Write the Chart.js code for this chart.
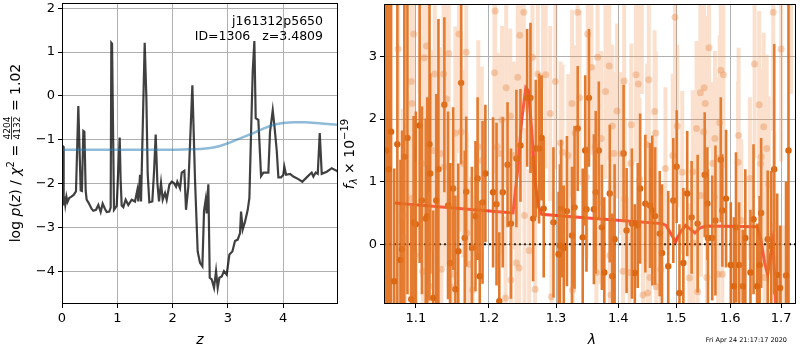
<!DOCTYPE html>
<html>
<head>
<meta charset="utf-8">
<script src="https://cdn.jsdelivr.net/npm/chart.js@4.4.1/dist/chart.umd.min.js"></script>
<style>
    html, body { margin: 0; padding: 0; background: #fff; }
    #wrap { position: relative; width: 800px; height: 350px; }
    canvas { position: absolute; left: 0; top: 0; }
</style>
</head>
<body>
<div id="wrap">
    <canvas id="pzChart" width="800" height="350"></canvas>
    <canvas id="specChart" width="800" height="350"></canvas>
</div>
<script>
// === p(z) panel ===
const pzZ = [0.000, 0.008, 0.015, 0.022, 0.030, 0.045, 0.060, 0.080, 0.100, 0.130, 0.170, 0.210, 0.253, 0.295, 0.338, 0.360,
    0.386, 0.405, 0.428, 0.446, 0.476, 0.537, 0.566, 0.615, 0.657, 0.699, 0.735, 0.778, 0.808, 0.856, 0.880, 0.892, 0.905,
    0.940, 0.989, 1.043, 1.060, 1.079, 1.109, 1.151, 1.199, 1.260, 1.320, 1.362, 1.380, 1.411, 1.429, 1.495, 1.525, 1.549,
    1.579, 1.633, 1.664, 1.694, 1.724, 1.754, 1.790, 1.821, 1.863, 1.893, 1.941, 1.984, 2.025, 2.062, 2.085, 2.134, 2.164,
    2.212, 2.242, 2.284, 2.357, 2.405, 2.453, 2.495, 2.538, 2.568, 2.598, 2.616, 2.646, 2.671, 2.707, 2.749, 2.785, 2.815,
    2.845, 2.888, 2.929, 2.978, 3.026, 3.080, 3.128, 3.177, 3.219, 3.237, 3.267, 3.309, 3.358, 3.388, 3.418, 3.448, 3.478,
    3.502, 3.550, 3.599, 3.641, 3.731, 3.761, 3.810, 3.839, 3.882, 3.912, 3.960, 4.002, 4.020, 4.051, 4.123, 4.183, 4.273,
    4.345, 4.424, 4.514, 4.545, 4.587, 4.624, 4.660, 4.696, 4.787, 4.877, 4.967, 5.000];
const pzLog = [-2.45, -1.12, -2.42, -1.15, -2.50, -2.30, -2.48, -2.30, -2.42, -2.33, -2.30, -2.26, -2.18, -0.23, -2.16, -2.17,
    -0.80, -0.82, -2.17, -2.37, -2.43, -2.58, -2.62, -2.60, -2.49, -2.65, -2.46, -2.58, -2.65, -2.64, -2.55, 1.21, 1.19,
    -2.60, -2.51, -0.95, -1.92, -2.50, -2.54, -2.37, -2.49, -2.37, -2.41, -2.15, -2.41, -1.80, -2.41, 1.21, -0.02, -1.77,
    -2.43, -2.41, -1.73, -0.88, -1.98, -2.41, -1.99, -2.37, -2.22, -2.37, -2.03, -1.96, -1.99, -2.07, -1.96, -2.11, -1.75,
    -1.71, -2.60, -2.07, 0.24, -1.92, -3.55, -3.81, -3.89, -2.62, -2.37, -2.68, -2.02, -4.15, -4.19, -4.38, -4.00, -4.38,
    -4.15, -4.12, -4.00, -4.08, -3.62, -3.55, -3.31, -3.28, -3.13, -2.64, -3.05, -2.87, -2.60, -2.33, -0.86, 0.55, 1.25,
    -0.51, -0.55, -1.83, -1.75, -1.75, -0.82, -0.33, -0.67, -1.24, -1.86, -1.86, -1.80, -1.62, -1.80, -1.78, -1.84, -1.90,
    -1.96, -1.86, -1.75, -1.84, -1.75, -1.78, -0.85, -1.78, -1.73, -1.65, -1.71, -1.75];
const priorZ = [0, 1, 2, 2.3, 2.6, 2.8, 3.0, 3.2, 3.4, 3.6, 3.8, 4.0, 4.2, 4.4, 4.6, 4.8, 5.0];
const priorLog = [-1.23, -1.23, -1.23, -1.22, -1.20, -1.16, -1.08, -0.98, -0.88, -0.77, -0.67, -0.62, -0.60, -0.60, -0.62, -0.64, -0.66];
const pzXTicks = [0, 1, 2, 3, 4];
const pzYTicks = [-4, -3, -2, -1, 0, 1, 2];

// === spectrum panel ===
const darkLam = [1.062, 1.065, 1.068, 1.072, 1.076, 1.080, 1.082, 1.085, 1.089, 1.094, 1.097, 1.100, 1.105, 1.108, 1.113,
    1.115, 1.118, 1.119, 1.123, 1.127, 1.130, 1.138, 1.143, 1.146, 1.150, 1.153, 1.157, 1.161, 1.166, 1.168, 1.176, 1.181,
    1.184, 1.187, 1.191, 1.195, 1.206, 1.211, 1.215, 1.220, 1.227, 1.232, 1.240, 1.246, 1.256, 1.261, 1.265, 1.269, 1.274,
    1.278, 1.281, 1.296, 1.304, 1.306, 1.308, 1.312, 1.317, 1.325, 1.329, 1.334, 1.342, 1.346, 1.348, 1.352, 1.360, 1.363,
    1.368, 1.373, 1.377, 1.386, 1.390, 1.394, 1.409, 1.414, 1.423, 1.428, 1.433, 1.437, 1.446, 1.454, 1.458, 1.463, 1.471,
    1.475, 1.486, 1.495, 1.501, 1.506, 1.513, 1.520, 1.528, 1.539, 1.552, 1.557, 1.558, 1.566, 1.572, 1.582, 1.585, 1.592,
    1.601, 1.607, 1.611, 1.617, 1.624, 1.629, 1.639, 1.645, 1.652, 1.657, 1.660, 1.673, 1.680, 1.686, 1.692, 1.698, 1.710, 1.715];
const darkFlux = [1.5, 1.2, 1.8, -0.59, 1.6, -0.25, -0.08, 1.4, 1.7, -0.88, 0.35, 0.32, 1.9, 0.70, 0.41,
    0.45, 1.6, 1.13, -0.86, 0.70, 1.2, 2.23, 0.62, -0.30, 0.89, -0.72, -0.11, 2.58, 0.10, 0.84, -0.06, 0.45,
    1.05, -0.51, 0.67, 1.13, 0.83, 0.64, -0.91, 0.83, 1.27, 0.33, 1.37, 1.58, 2.34, 2.34, 0.41, 1.53, 1.53,
    1.70, 0.57, 0.35, -0.16, -0.02, 0.57, -0.06, 0.53, 0.14, 0.59, 1.85, 0.11, 1.50, 0.56, 2.34, 0.56, 0.83,
    1.50, 0.27, -0.45, 0.81, -0.51, 0.08, 1.45, 0.22, 0.33, -0.46, 0.30, 0.89, 0.65, 0.62, 0.54, 0.45, 0.17,
    -0.14, -0.35, 0.70, 1.24, -0.78, -0.30, 0.81, 0.43, 0.33, 1.11, 0.65, 0.10, 0.10, 0.38, 1.35, 0.54, 0.73,
    -0.33, -0.67, 0.27, -0.33, -0.67, 0.10, -0.45, 0.40, -0.67, -0.33, 0.50, 0.08, -0.03, 1.2, -0.49, -0.7, -0.5, 1.5];
const darkErr = [3.0, 3.0, 3.0, 1.8, 2.8, 1.6, 1.9, 2.9, 2.5, 1.5, 1.7, 1.8, 2.2, 1.5, 1.6,
    1.9, 2.5, 1.6, 1.4, 1.7, 2.4, 1.4, 1.5, 1.6, 1.3, 1.5, 1.4, 1.3, 1.4, 1.2, 1.3, 1.2,
    1.3, 1.2, 1.3, 1.1, 1.2, 1.3, 1.1, 1.2, 1.0, 1.2, 1.1, 0.9, 1.1, 1.2, 1.0, 1.1, 1.2,
    1.0, 1.1, 1.2, 1.0, 1.3, 1.1, 1.0, 1.2, 1.1, 1.3, 1.0, 1.1, 1.2, 1.0, 1.1, 1.2, 1.3,
    1.1, 1.0, 1.2, 1.1, 1.0, 1.2, 1.1, 1.0, 1.2, 1.1, 1.0, 1.2, 1.1, 1.0, 1.2, 1.1, 1.0,
    1.1, 1.2, 1.0, 0.9, 1.1, 1.2, 1.0, 0.9, 1.1, 1.0, 0.9, 1.1, 1.0, 1.2, 1.0, 0.9, 1.1,
    1.0, 1.1, 1.2, 1.0, 0.9, 1.1, 1.0, 1.2, 1.0, 1.1, 1.2, 1.1, 1.2, 2.0, 1.3, 1.0, 1.5, 3.0];

const lightLam = [1.065, 1.077, 1.083, 1.086, 1.093, 1.094, 1.095, 1.097, 1.099, 1.105, 1.108, 1.109, 1.111, 1.114, 1.118,
    1.123, 1.125, 1.133, 1.134, 1.137, 1.138, 1.141, 1.144, 1.146, 1.150, 1.153, 1.158, 1.160, 1.161, 1.164, 1.168, 1.169,
    1.173, 1.177, 1.185, 1.190, 1.208, 1.209, 1.212, 1.215, 1.219, 1.224, 1.225, 1.231, 1.232, 1.236, 1.240, 1.242, 1.244,
    1.245, 1.251, 1.252, 1.259, 1.264, 1.268, 1.272, 1.280, 1.284, 1.291, 1.293, 1.299, 1.307, 1.310, 1.319, 1.325, 1.326,
    1.330, 1.334, 1.337, 1.348, 1.350, 1.356, 1.362, 1.364, 1.366, 1.368, 1.372, 1.379, 1.385, 1.386, 1.388, 1.390, 1.393,
    1.398, 1.405, 1.408, 1.410, 1.411, 1.419, 1.421, 1.422, 1.430, 1.434, 1.436, 1.440, 1.442, 1.449, 1.450, 1.452, 1.454,
    1.462, 1.464, 1.465, 1.473, 1.481, 1.494, 1.498, 1.502, 1.511, 1.524, 1.530, 1.531, 1.537, 1.539, 1.544, 1.545, 1.550,
    1.551, 1.553, 1.556, 1.560, 1.567, 1.570, 1.571, 1.576, 1.577, 1.580, 1.582, 1.585, 1.587, 1.615, 1.616, 1.621, 1.638,
    1.647, 1.656, 1.659, 1.660, 1.665, 1.667, 1.671, 1.675, 1.684, 1.686, 1.700, 1.705, 1.720];
const lightFlux = [3.90, 3.12, 0.46, 0.11, 0.73, 2.60, 2.25, 3.36, -0.18, 4.00, 1.29, -0.43, 2.98, 3.17, -0.67,
    1.50, 2.72, 1.45, -0.40, 2.72, 1.24, 2.32, 3.05, -0.67, -0.48, 1.78, 3.36, 4.10, 1.80, 1.29, 3.07, 0.18,
    -0.32, -0.73, 1.56, 1.34, 2.74, 3.73, 1.56, 1.45, 1.99, -0.86, 2.50, 2.05, -0.57, 1.42, -0.30, 2.67, -0.38,
    3.34, 3.71, 0.46, -0.10, 2.99, -0.72, 2.72, 4.00, 2.71, 2.09, -0.84, 2.60, 1.62, 1.47, 1.42, 2.25, -0.73,
    1.78, 3.71, 2.34, 1.07, 3.36, 2.83, 1.56, -0.45, 2.99, 0.67, 1.69, 2.44, 2.85, -0.18, -0.81, 1.89, 1.45,
    2.13, 1.45, -0.43, 2.61, 0.72, -0.45, 1.29, 1.91, 2.71, 2.56, 1.04, 3.90, -0.81, 1.59, -0.78, 2.63, -0.53,
    2.12, 1.78, -0.68, -0.40, 1.21, 1.42, 3.63, 1.89, 1.15, -0.54, 1.16, 0.02, 1.85, -0.76, 2.42, 0.78, 1.80,
    2.50, 2.25, -0.53, 3.14, 1.29, 0.75, 1.69, 1.37, -0.48, 1.94, 2.78, -0.48, 2.71, 1.31, 1.74, 0.38, 1.05,
    2.88, 2.23, 1.29, 1.40, 1.88, -0.53, 1.53, 0.96, 3.71, 0.30, 3.12, -1.20, 4.20];
const lightErr = [1.6, 1.5, 1.7, 1.8, 1.7, 1.9, 1.6, 1.8, 1.5, 1.6, 1.8, 1.4, 1.7, 1.9, 1.5,
    1.6, 1.8, 1.7, 1.4, 1.5, 1.6, 1.8, 1.7, 1.3, 1.5, 1.7, 1.9, 1.8, 1.6, 1.5, 1.7, 1.6,
    1.4, 1.5, 1.7, 1.5, 1.6, 1.7, 1.5, 1.6, 1.5, 1.3, 1.6, 1.4, 1.3, 1.5, 1.4, 1.6, 1.3,
    1.5, 1.6, 1.4, 1.3, 1.5, 1.3, 1.4, 1.5, 1.5, 1.4, 1.3, 1.4, 1.3, 1.4, 1.3, 1.5, 1.2,
    1.4, 1.5, 1.4, 1.3, 1.5, 1.4, 1.3, 1.2, 1.5, 1.3, 1.4, 1.4, 1.5, 1.2, 1.2, 1.3, 1.3,
    1.4, 1.3, 1.2, 1.4, 1.3, 1.2, 1.3, 1.3, 1.4, 1.3, 1.3, 1.5, 1.2, 1.3, 1.2, 1.4, 1.2,
    1.3, 1.3, 1.2, 1.2, 1.3, 1.3, 1.5, 1.3, 1.3, 1.2, 1.3, 1.3, 1.4, 1.2, 1.5, 1.3, 1.4,
    1.5, 1.4, 1.2, 1.6, 1.3, 1.3, 1.4, 1.3, 1.2, 1.4, 1.5, 1.2, 1.5, 1.3, 1.4, 1.3, 1.3,
    1.5, 1.5, 1.4, 1.4, 1.5, 1.3, 1.5, 1.4, 1.9, 1.5, 1.8, 1.5, 1.8];

const modelLam = [1.073, 1.150, 1.235, 1.242, 1.248, 1.254, 1.258, 1.263, 1.268, 1.273, 1.278, 1.350, 1.475, 1.482, 1.490,
    1.499, 1.508, 1.517, 1.526, 1.534, 1.543, 1.554, 1.653, 1.660, 1.667, 1.673, 1.678, 1.683, 1.687, 1.690];
const modelFlux = [0.66, 0.58, 0.50, 1.20, 2.00, 2.50, 2.45, 1.80, 1.00, 0.60, 0.48, 0.42, 0.33, 0.30, 0.18,
    0.04, 0.20, 0.30, 0.24, 0.18, 0.26, 0.29, 0.28, 0.05, -0.30, -0.49, -0.20, 0.05, -0.50, -1.20];
const specXTicks = [1.1, 1.2, 1.3, 1.4, 1.5, 1.6, 1.7];
const specYTicks = [0, 1, 2, 3];

const FONT = "'DejaVu Sans', sans-serif";
Chart.defaults.font.family = FONT;
Chart.defaults.font.size = 13;
Chart.defaults.color = "#000";

const toXY = (xs, ys) => xs.map((x, i) => ({ x: x, y: ys[i] }));
const minus = v => String(v).replace("-", "\u2212");

// vertical error bars as one broken line
function errorSegments(xs, ys, es) {
    const out = [];
    xs.forEach((x, i) => {
        out.push({ x: x, y: ys[i] - es[i] });
        out.push({ x: x, y: ys[i] + es[i] });
        out.push({ x: x, y: null });
    });
    return out;
}

// rotated axis label made of runs (text / fraction)
function drawMath(ctx, cx, cy, runs) {
    ctx.save();
    ctx.translate(cx, cy);
    ctx.rotate(-Math.PI / 2);
    ctx.fillStyle = "#000";
    let total = 0;
    runs.forEach(r => {
        ctx.font = r.font;
        r.w = r.frac
            ? Math.max(ctx.measureText(r.frac[0]).width, ctx.measureText(r.frac[1]).width) + 2
            : ctx.measureText(r.text).width;
        total += r.w;
    });
    let x = -total / 2;
    runs.forEach(r => {
        ctx.font = r.font;
        if (r.frac) {
            ctx.textAlign = "center";
            ctx.fillText(r.frac[0], x + r.w / 2, -4);
            ctx.fillText(r.frac[1], x + r.w / 2, 6);
            ctx.fillRect(x + 1, -2.8, r.w - 2, 0.8);
            ctx.textAlign = "left";
        } else {
            ctx.textAlign = "left";
            ctx.fillText(r.text, x, r.dy);
        }
        x += r.w;
    });
    ctx.restore();
}

function axis(opts, z) {
    return Object.assign({
        z: z,
        grid: { color: "#b0b0b0", lineWidth: 1, tickColor: "#000", tickLength: 4 },
        border: { display: false },
        ticks: { color: "#000", padding: 3, maxRotation: 0, autoSkip: false }
    }, opts);
}

// fixed axis boxes so the plot areas sit where the reference has them
const fitX = s => { s.height = 46; s.paddingLeft = 0; s.paddingRight = 0; };
const fitY = w => s => { s.width = w; s.paddingTop = 0; s.paddingBottom = 0; };

const boxPlugin = {
    id: "box",
    afterDraw(chart) {
        const a = chart.chartArea, ctx = chart.ctx;
        ctx.save();
        ctx.strokeStyle = "#000";
        ctx.lineWidth = 1;
        ctx.strokeRect(a.left + 0.5, a.top + 0.5, a.right - a.left - 1, a.bottom - a.top - 1);
        ctx.restore();
    }
};

document.addEventListener("DOMContentLoaded", () => {
    const M = "14px " + FONT, MI = "italic 14px " + FONT, S = "9px " + FONT;

    // === Chart 1: log p(z) ===
    new Chart(document.getElementById("pzChart"), {
        type: "scatter",
        data: {
            datasets: [
                {
                    data: toXY(priorZ, priorLog), showLine: true, pointRadius: 0,
                    borderColor: "rgba(31,119,180,0.5)", borderWidth: 2.5, cubicInterpolationMode: "monotone"
                },
                {
                    data: toXY(pzZ, pzLog), showLine: true, pointRadius: 0,
                    borderColor: "rgba(0,0,0,0.75)", borderWidth: 2.2
                }
            ]
        },
        options: {
            responsive: false, animation: false,
            layout: { padding: { left: 0, right: 462, top: 3, bottom: 0 } },
            plugins: { legend: { display: false }, tooltip: { enabled: false } },
            scales: {
                x: axis({
                    type: "linear", min: 0, max: 4.99,
                    afterBuildTicks: s => { s.ticks = pzXTicks.map(v => ({ value: v })); },
                    afterFit: fitX
                }, 0),
                y: axis({
                    type: "linear", min: -4.75, max: 2.12,
                    afterBuildTicks: s => { s.ticks = pzYTicks.map(v => ({ value: v })); },
                    afterFit: fitY(62),
                    ticks: { color: "#000", padding: 3, callback: v => minus(v) }
                }, 0)
            }
        },
        plugins: [boxPlugin, {
            id: "pzText",
            afterDraw(chart) {
                const ctx = chart.ctx;
                ctx.save();
                ctx.fillStyle = "#000";
                ctx.font = "12.5px " + FONT;
                ctx.textAlign = "right";
                ctx.fillText("j161312p5650", 323, 25);
                ctx.fillText("ID=1306   z=3.4809", 323, 40);
                ctx.textAlign = "center";
                ctx.font = MI;
                ctx.fillText("z", 200, 344);
                ctx.restore();
                drawMath(ctx, 14, 153, [
                    { text: "log ", font: M, dy: 6 },
                    { text: "p", font: MI, dy: 6 },
                    { text: "(", font: M, dy: 6 },
                    { text: "z", font: MI, dy: 6 },
                    { text: ") / ", font: M, dy: 6 },
                    { text: "\u03c7", font: MI, dy: 6 },
                    { text: "2", font: "10px " + FONT, dy: 0 },
                    { text: " = ", font: M, dy: 6 },
                    { frac: ["4204", "4132"], font: S },
                    { text: " = 1.02", font: M, dy: 6 }
                ]);
            }
        }]
    });

    // === Chart 2: spectrum ===
    const xMin = 1.059, xMax = 1.7304;
    new Chart(document.getElementById("specChart"), {
        type: "scatter",
        data: {
            datasets: [
                {
                    data: errorSegments(lightLam, lightFlux, lightErr), showLine: true, spanGaps: false,
                    pointRadius: 0, borderColor: "rgba(235,140,70,0.27)", borderWidth: 4
                },
                {
                    data: toXY(lightLam, lightFlux), pointRadius: 3.5, borderWidth: 0,
                    backgroundColor: "rgba(230,130,60,0.35)"
                },
                {
                    data: errorSegments(darkLam, darkFlux, darkErr), showLine: true, spanGaps: false,
                    pointRadius: 0, borderColor: "rgba(222,105,20,0.9)", borderWidth: 2.6
                },
                {
                    data: toXY(darkLam, darkFlux), pointRadius: 3.2, borderWidth: 0,
                    backgroundColor: "rgb(215,100,15)"
                },
                {
                    data: toXY(modelLam, modelFlux), showLine: true, pointRadius: 0,
                    borderColor: "rgba(255,25,15,0.78)", borderWidth: 3
                },
                {
                    data: toXY([xMin, xMax], [0, 0]), showLine: true, pointRadius: 0,
                    borderColor: "#000", borderWidth: 2, borderDash: [2, 3]
                }
            ]
        },
        options: {
            responsive: false, animation: false,
            layout: { padding: { left: 340, right: 1, top: 3, bottom: 0 } },
            plugins: { legend: { display: false }, tooltip: { enabled: false } },
            scales: {
                x: axis({
                    type: "logarithmic", min: xMin, max: xMax,
                    afterBuildTicks: s => { s.ticks = specXTicks.map(v => ({ value: v })); },
                    afterFit: fitX,
                    ticks: { color: "#000", padding: 3, maxRotation: 0, autoSkip: false, callback: v => v.toFixed(1) }
                }, 1),
                y: axis({
                    type: "linear", min: -0.955, max: 3.84,
                    afterBuildTicks: s => { s.ticks = specYTicks.map(v => ({ value: v })); },
                    afterFit: fitY(44),
                    ticks: { color: "#000", padding: 3, callback: v => minus(v) }
                }, 1)
            }
        },
        plugins: [boxPlugin, {
            id: "specText",
            afterDraw(chart) {
                const ctx = chart.ctx;
                ctx.save();
                ctx.fillStyle = "#000";
                ctx.textAlign = "center";
                ctx.font = MI;
                ctx.fillText("\u03bb", 592, 344);
                ctx.font = "6.5px " + FONT;
                ctx.textAlign = "right";
                ctx.fillText("Fri Apr 24 21:17:17 2020", 787, 342);
                ctx.restore();
                drawMath(ctx, 349, 154, [
                    { text: "f", font: MI, dy: 5 },
                    { text: "\u03bb", font: "italic 10px " + FONT, dy: 8 },
                    { text: " \u00d7 10", font: M, dy: 5 },
                    { text: "\u221219", font: "10px " + FONT, dy: -1 }
                ]);
            }
        }]
    });
});
</script>
</body>
</html>
